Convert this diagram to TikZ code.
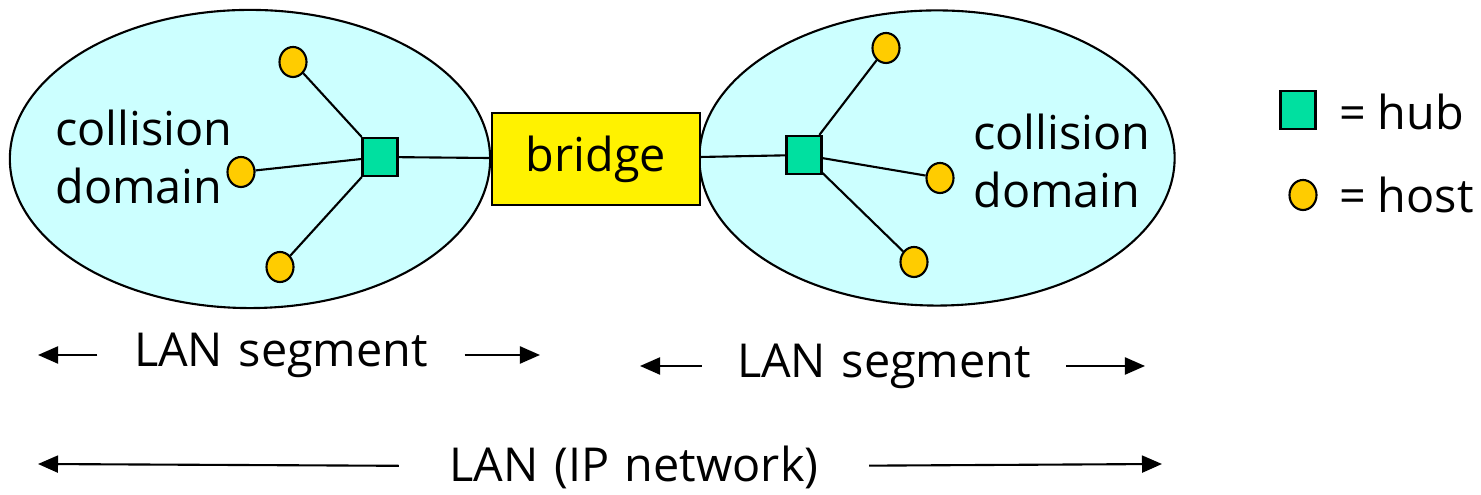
\documentclass[tikz,border=0pt]{standalone}
\usepackage{fontspec}
\setmainfont{Open Sans}
\usetikzlibrary{arrows.meta,shapes.geometric}
\definecolor{domaincyan}{RGB}{204,255,255}
\definecolor{hubgreen}{RGB}{0,224,160}
\definecolor{hostorange}{RGB}{255,204,0}

\begin{document}
\begin{tikzpicture}
[x=0.01cm, y=-0.01cm, line width=0.6pt, >={Triangle[length=2mm,width=1.7mm]},
 font=\fontsize{13.3}{16.5}\selectfont]
\tikzstyle{every node}=[inner sep=0pt]
\tikzstyle{cdomain}=[ellipse,draw,fill=domaincyan]
\tikzstyle{hub}=[rectangle,draw,fill=hubgreen,minimum width=0.35cm,minimum height=0.38cm]
\tikzstyle{host}=[ellipse,draw,fill=hostorange,minimum width=0.27cm,minimum height=0.3cm]
\tikzstyle{spanlabel}=[align=center]
\useasboundingbox (0,0) rectangle (1481,495);
% collision domains
\node[cdomain,minimum width=4.8cm,minimum height=2.98cm] (ldom) at (250,159) {};
\node[cdomain,minimum width=4.75cm,minimum height=2.95cm] (rdom) at (937,158) {};
\node[draw,fill=yellow,minimum width=2.07cm,minimum height=0.92cm] (bridge) at (596,159) {bridge};
\node[align=left] (ltxt) at (144,157) {collision\\domain};
\node[align=left] (rtxt) at (1062,161) {collision\\domain};
% hubs and hosts
\node[hub] (lhub) at (380,157) {};
\node[host] (lhost1) at (293,62) {};
\node[host] (lhost2) at (241,172) {};
\node[host] (lhost3) at (280,267) {};
\node[hub] (rhub) at (804,155) {};
\node[host] (rhost1) at (886,48) {};
\node[host] (rhost2) at (940,178) {};
\node[host] (rhost3) at (914,262) {};
\draw (lhub) -- (lhost1);
\draw (lhub) -- (lhost2);
\draw (lhub) -- (lhost3);
\draw (lhub) -- (bridge);
\draw (bridge) -- (rhub);
\draw (rhub) -- (rhost1);
\draw (rhub) -- (rhost2);
\draw (rhub) -- (rhost3);
% key
\node[hub] (keyhub) at (1298,110) {};
\node[anchor=west] (keyhubtxt) at (1338,112) {= hub};
\node[host] (keyhost) at (1303,195) {};
\node[anchor=west] (keyhosttxt) at (1338,195) {= host};
% spans
\node[spanlabel,text width=3.65cm] (lseg) at (281,355) {LAN segment};
\coordinate (lsegl) at (38,355);
\coordinate (lsegr) at (540,355);
\node[spanlabel,text width=3.62cm] (rseg) at (884,366) {LAN segment};
\coordinate (rsegl) at (640,366);
\coordinate (rsegr) at (1145,366);
\node[spanlabel,text width=4.68cm] (lan) at (634,467) {LAN (IP network)};
\coordinate (lanl) at (38,464);
\coordinate (lanr) at (1162,464);
\draw[->] (lseg) -- (lsegl);
\draw[->] (lseg) -- (lsegr);
\draw[->] (rseg) -- (rsegl);
\draw[->] (rseg) -- (rsegr);
\draw[->] (lan) -- (lanl);
\draw[->] (lan) -- (lanr);
\end{tikzpicture}
\end{document}
